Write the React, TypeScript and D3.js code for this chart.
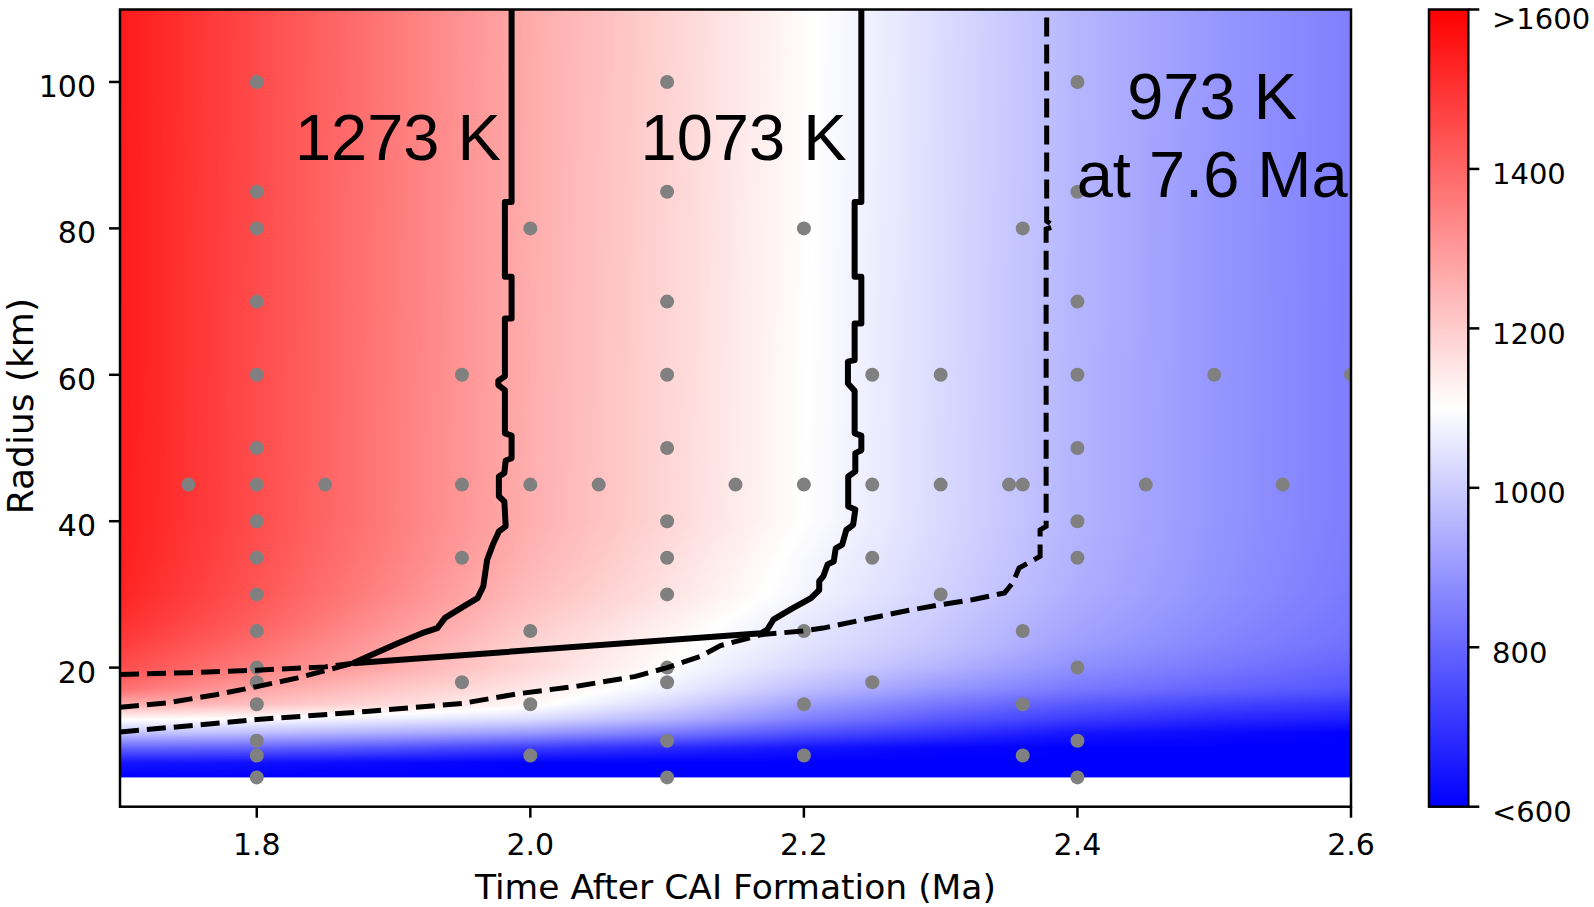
import React, { useMemo } from 'react';
import * as d3 from 'd3';

// ---------- data ----------
const xTicks = [1.8, 2.0, 2.2, 2.4, 2.6];
const yTicks = [20, 40, 60, 80, 100];
const cbTicks = [600, 800, 1000, 1200, 1400, 1600];
const cbTickLabels = ['<600', '800', '1000', '1200', '1400', '>1600'];

// temperature field (K) read at grid nodes: rows = radius, cols = time
const gridTimes = [1.7, 1.8, 1.9, 2.0, 2.1, 2.2, 2.3, 2.4, 2.5, 2.6];
const gridRadii = [5, 7, 9, 11, 13, 15, 17, 20, 23, 26, 30, 35, 40, 110];
const gridTemps = [
  [600, 600, 600, 600, 600, 600, 600, 600, 600, 600],
  [640, 630, 615, 600, 600, 600, 600, 600, 600, 600],
  [796, 790, 760, 718, 680, 640, 610, 600, 600, 600],
  [980, 968, 935, 896, 835, 757, 698, 640, 620, 600],
  [1110, 1098, 1066, 1034, 955, 855, 776, 718, 678, 659],
  [1260, 1225, 1170, 1114, 1024, 914, 835, 776, 737, 708],
  [1380, 1275, 1208, 1143, 1070, 972, 894, 835, 796, 767],
  [1450, 1350, 1262, 1180, 1100, 1022, 953, 880, 835, 796],
  [1482, 1384, 1278, 1185, 1115, 1045, 985, 910, 860, 820],
  [1508, 1410, 1305, 1205, 1130, 1055, 995, 925, 872, 830],
  [1530, 1432, 1332, 1230, 1155, 1080, 1012, 940, 885, 838],
  [1540, 1443, 1347, 1247, 1168, 1088, 1020, 947, 890, 843],
  [1545, 1450, 1355, 1258, 1180, 1100, 1026, 952, 893, 846],
  [1550, 1455, 1362, 1265, 1188, 1108, 1032, 957, 897, 850],
];

// simulation sample points (time column -> radii)
const sampleTimes = [1.75, 1.8, 1.85, 1.95, 2.0, 2.05, 2.1, 2.15, 2.2, 2.25, 2.3, 2.35, 2.36, 2.4, 2.45, 2.5, 2.55, 2.6];
const sampleRadii = [
  [45],
  [100, 85, 80, 70, 60, 50, 45, 40, 35, 30, 25, 20, 18, 15, 10, 8, 5],
  [45],
  [60, 45, 35, 18],
  [80, 45, 25, 15, 8],
  [45],
  [100, 85, 70, 60, 50, 40, 35, 30, 20, 18, 10, 5],
  [45],
  [80, 45, 25, 15, 8],
  [60, 45, 35, 18],
  [60, 45, 30],
  [45],
  [80, 45, 25, 15, 8],
  [100, 85, 70, 60, 50, 40, 35, 20, 10, 5],
  [45],
  [60],
  [45],
  [60],
];

// contour 1273 K (solid)
const contour1273 = [
  [1.9863, 110], [1.9863, 83.6], [1.9814, 83.6], [1.9814, 73.4], [1.9863, 73.4], [1.9863, 67.7],
  [1.9814, 67.7], [1.9814, 59.8], [1.9766, 59.2], [1.9766, 58.6], [1.9814, 57.9], [1.9814, 52.0],
  [1.9863, 51.7], [1.9863, 48.6], [1.982, 48.3], [1.981, 46.6], [1.977, 46.1], [1.977, 43.4],
  [1.981, 42.7], [1.982, 39.3], [1.977, 38.6], [1.9726, 36.8], [1.9684, 34.7], [1.9656, 31.1],
  [1.9614, 29.5], [1.9516, 28.4], [1.9376, 26.8], [1.932, 25.4], [1.9208, 24.7], [1.904, 23.4],
  [1.887, 22.0], [1.8703, 20.6],
];
// contour 1073 K (solid)
const contour1073 = [
  [2.242, 110], [2.242, 83.6], [2.2371, 83.6], [2.2371, 73.4], [2.242, 73.4], [2.242, 67.0],
  [2.2371, 67.0], [2.2371, 62.0], [2.2322, 61.8], [2.2322, 58.8], [2.2371, 57.8], [2.2371, 52.0],
  [2.242, 51.7], [2.242, 49.7], [2.2376, 49.3], [2.2376, 46.8], [2.2324, 46.1], [2.2324, 42.0],
  [2.2376, 41.6], [2.236, 39.5], [2.231, 38.8], [2.228, 36.8], [2.2233, 36.3], [2.2218, 34.5],
  [2.2173, 34.1], [2.2143, 32.5], [2.2112, 31.8], [2.2112, 30.6], [2.2052, 29.5], [2.1916, 28.1],
  [2.1779, 26.6], [2.1733, 25.2], [2.1688, 24.7], [1.8703, 20.6],
];
// dashed curves
const dashedUpper = [[1.7, 19.05], [1.75, 19.3], [1.8, 19.65], [1.85, 20.1], [1.8703, 20.6]];
const dashedMiddle = [[1.7, 14.6], [1.735, 15.2], [1.77, 16.3], [1.8, 17.4], [1.83, 18.6], [1.8703, 20.6]];
const contour973 = [
  [1.7, 11.2], [1.8, 12.9], [1.88, 14.0], [1.95, 15.1], [1.99, 16.4], [2.035, 17.5], [2.077, 18.8],
  [2.1, 20.0], [2.124, 21.5], [2.139, 23.0], [2.1688, 24.5], [2.199, 25.0], [2.214, 25.4],
  [2.245, 26.6], [2.276, 27.8], [2.3, 28.6], [2.324, 29.3], [2.3467, 30.2], [2.3528, 31.6],
  [2.3573, 33.6], [2.3727, 35.2], [2.3727, 38.8], [2.3771, 39.3], [2.3771, 79.9], [2.383, 80.3],
  [2.3775, 81.0], [2.3775, 110],
];

const annotations = [
  { lines: ['1273 K'], t: 1.9032, r: 89.4 },
  { lines: ['1073 K'], t: 2.1559, r: 89.4 },
  { lines: ['973 K', 'at 7.6 Ma'], t: 2.4985, r: 95.0 },
];

// ---------- helpers ----------
function bwr(T: number): [number, number, number] {
  const n = Math.max(0, Math.min(1, (T - 600) / 1000));
  if (n < 0.5) {
    const v = Math.round(2 * n * 255);
    return [v, v, 255];
  }
  const v = Math.round((2 - 2 * n) * 255);
  return [255, v, v];
}

function interpTemp(t: number, r: number): number {
  const nt = gridTimes.length, nr = gridRadii.length;
  let i = d3.bisectRight(gridTimes, t) - 1;
  i = Math.max(0, Math.min(nt - 2, i));
  let j = d3.bisectRight(gridRadii, r) - 1;
  j = Math.max(0, Math.min(nr - 2, j));
  const ft = Math.max(0, Math.min(1, (t - gridTimes[i]) / (gridTimes[i + 1] - gridTimes[i])));
  const fr = Math.max(0, Math.min(1, (r - gridRadii[j]) / (gridRadii[j + 1] - gridRadii[j])));
  const a = gridTemps[j][i], b = gridTemps[j][i + 1];
  const c = gridTemps[j + 1][i], d = gridTemps[j + 1][i + 1];
  return a * (1 - ft) * (1 - fr) + b * ft * (1 - fr) + c * (1 - ft) * fr + d * ft * fr;
}

const W = 1594, H = 907;
const PL = 120, PR = 1351, PT = 9.5, PB = 806.7;
const CBL = 1429, CBR = 1468.3;
const TICK_FONT = 30;
const SANS = "'DejaVu Sans', sans-serif";
const ARIAL = "'Liberation Sans', Arial, sans-serif";

export default function App() {
  const x = d3.scaleLinear().domain([1.7, 2.6]).range([PL, PR]);
  const y = d3.scaleLinear().domain([1.0, 109.9]).range([PB, PT]);
  const cb = d3.scaleLinear().domain([600, 1600]).range([PB, PT]);

  const heat = useMemo(() => {
    const x0 = x(1.7), x1 = x(2.6);
    const yTop = y(109.9), yBot = y(5);
    const w = Math.round(x1 - x0), h = Math.round(yBot - yTop);
    const canvas = document.createElement('canvas');
    canvas.width = w; canvas.height = h;
    const ctx = canvas.getContext('2d');
    if (!ctx) return null;
    const img = ctx.createImageData(w, h);
    for (let jj = 0; jj < h; jj++) {
      const r = y.invert(yTop + ((jj + 0.5) * (yBot - yTop)) / h);
      for (let ii = 0; ii < w; ii++) {
        const t = x.invert(x0 + ((ii + 0.5) * (x1 - x0)) / w);
        const [R, G, B] = bwr(interpTemp(t, r));
        const k = (jj * w + ii) * 4;
        img.data[k] = R; img.data[k + 1] = G; img.data[k + 2] = B; img.data[k + 3] = 255;
      }
    }
    ctx.putImageData(img, 0, 0);
    return { href: canvas.toDataURL(), x: x0, y: yTop, w: x1 - x0, h: yBot - yTop };
  }, []);

  const line = d3.line<number[]>().x((d) => x(d[0])).y((d) => y(d[1]));

  const dots: { t: number; r: number }[] = [];
  sampleTimes.forEach((t, i) => sampleRadii[i].forEach((r) => dots.push({ t, r })));

  return (
    <svg width={W} height={H} style={{ position: 'absolute', left: 0, top: 0, display: 'block', background: '#fff' }}>
      <defs>
        <clipPath id="plotClip">
          <rect x={PL} y={PT} width={PR - PL} height={PB - PT} />
        </clipPath>
        <linearGradient id="cbGrad" x1="0" y1="1" x2="0" y2="0">
          <stop offset="0" stopColor="rgb(0,0,255)" />
          <stop offset="0.5" stopColor="rgb(255,255,255)" />
          <stop offset="1" stopColor="rgb(255,0,0)" />
        </linearGradient>
      </defs>

      {heat && (
        <image href={heat.href} x={heat.x} y={heat.y} width={heat.w} height={heat.h} preserveAspectRatio="none" />
      )}

      <g clipPath="url(#plotClip)">
        {dots.map((d, i) => (
          <circle key={i} cx={x(d.t)} cy={y(d.r)} r={7} fill="#808080" />
        ))}
        <path d={line(contour1273) || ''} fill="none" stroke="#000" strokeWidth={6} strokeLinejoin="round" />
        <path d={line(contour1073) || ''} fill="none" stroke="#000" strokeWidth={6} strokeLinejoin="round" />
        <path d={line(dashedUpper) || ''} fill="none" stroke="#000" strokeWidth={5} strokeDasharray="19 8" />
        <path d={line(dashedMiddle) || ''} fill="none" stroke="#000" strokeWidth={5} strokeDasharray="19 8" />
        <path d={line(contour973) || ''} fill="none" stroke="#000" strokeWidth={5} strokeDasharray="19 8" />
      </g>

      {annotations.map((a, i) => (
        <text key={i} x={x(a.t)} y={y(a.r)} textAnchor="middle" fontFamily={ARIAL} fontSize={65} fill="#000">
          {a.lines.map((l, k) => (
            <tspan key={k} x={x(a.t)} dy={k === 0 ? 0 : 78.4}>{l}</tspan>
          ))}
        </text>
      ))}

      {/* axes frame */}
      <rect x={PL} y={PT} width={PR - PL} height={PB - PT} fill="none" stroke="#000" strokeWidth={2.5} />

      {/* x ticks */}
      {xTicks.map((t) => (
        <g key={t}>
          <line x1={x(t)} x2={x(t)} y1={PB} y2={PB + 11} stroke="#000" strokeWidth={2.5} />
          <text x={x(t)} y={855} textAnchor="middle" fontFamily={SANS} fontSize={TICK_FONT}>{t.toFixed(1)}</text>
        </g>
      ))}
      {/* y ticks */}
      {yTicks.map((r) => (
        <g key={r}>
          <line x1={PL - 11} x2={PL} y1={y(r)} y2={y(r)} stroke="#000" strokeWidth={2.5} />
          <text x={96} y={y(r) + 15} textAnchor="end" fontFamily={SANS} fontSize={TICK_FONT}>{r}</text>
        </g>
      ))}

      <text x={(PL + PR) / 2} y={899} textAnchor="middle" fontFamily={SANS} fontSize={34.5}>
        Time After CAI Formation (Ma)
      </text>
      <text transform={`translate(33, ${(PT + PB) / 2 - 2}) rotate(-90)`} textAnchor="middle" fontFamily={SANS} fontSize={36}>
        Radius (km)
      </text>

      {/* colorbar */}
      <rect x={CBL} y={PT} width={CBR - CBL} height={PB - PT} fill="url(#cbGrad)" stroke="#000" strokeWidth={2.5} />
      {cbTicks.map((v, i) => (
        <g key={v}>
          <line x1={CBR} x2={CBR + 11} y1={cb(v)} y2={cb(v)} stroke="#000" strokeWidth={2.5} />
          <text x={1492} y={Math.max(cb(v) + 15.5, 29)} fontFamily={SANS} fontSize={29}>{cbTickLabels[i]}</text>
        </g>
      ))}
    </svg>
  );
}
